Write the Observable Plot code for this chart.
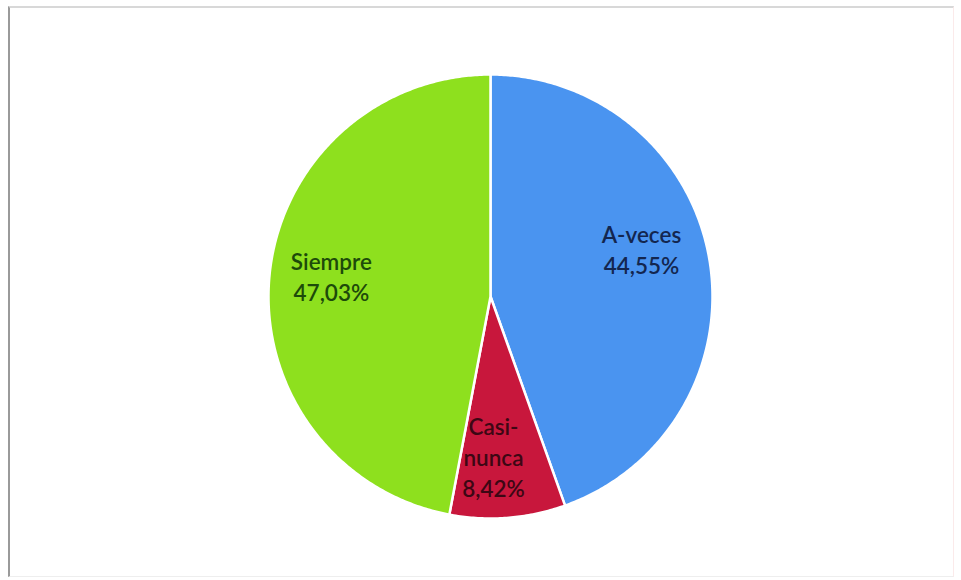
<!DOCTYPE html>
<html>
<head>
<meta charset="utf-8">
<script src="https://cdn.jsdelivr.net/npm/d3@7"></script>
<script src="https://cdn.jsdelivr.net/npm/@observablehq/plot@0.6"></script>
<style>
  html, body { margin: 0; padding: 0; background: #fff; }
  #wrap { position: relative; width: 961px; height: 580px; overflow: hidden; }
  #frame { position: absolute; left: 8px; top: 6px; width: 946px; height: 571px;
           border-left: 2px solid #9a9a9a; border-top: 2px solid #d8d8d8;
           border-right: 1px solid #fbeaea; border-bottom: 1px solid #eeeeee; box-sizing: border-box; }
  #chart { position: absolute; left: 0; top: 0; }
</style>
</head>
<body>
<div id="wrap"><div id="frame"></div><div id="chart"></div></div>
<script>
const categories = ["A-veces", "Casi-\nnunca", "Siempre"];
const values = [44.55, 8.42, 47.03];
const labels = ["44,55%", "8,42%", "47,03%"];
const colors = ["#4a94f0", "#c8173c", "#8ee01e"];
const labelColors = ["#13264f", "#3d0714", "#1d4a0a"];

const total = d3.sum(values);
const slices = [];
let acc = 0;
values.forEach((v, i) => {
  const a0 = acc / total * 2 * Math.PI;
  acc += v;
  const a1 = acc / total * 2 * Math.PI;
  slices.push({cat: categories[i], a0, a1, i});
});

// polygon points for each slice (angle measured clockwise from top)
const pts = [];
for (const s of slices) {
  pts.push({cat: s.cat, x: 0, y: 0});
  const n = Math.max(2, Math.ceil((s.a1 - s.a0) / 0.01));
  for (let k = 0; k <= n; k++) {
    const a = s.a0 + (s.a1 - s.a0) * k / n;
    pts.push({cat: s.cat, x: Math.sin(a), y: Math.cos(a)});
  }
  pts.push({cat: s.cat, x: 0, y: 0});
}

// label placement tweaks (radius fraction, pixel offsets)
const labelR = [0.69, 0.75, 0.72];
const labelDx = [0, -10, 0];
const labelDy = [-22, -6, -6];
const labelData = slices.map((s, i) => {
  const m = (s.a0 + s.a1) / 2;
  return {text: categories[i] + "\n" + labels[i], x: labelR[i] * Math.sin(m), y: labelR[i] * Math.cos(m), i};
});

const plot = Plot.plot({
  width: 961,
  height: 580,
  marginLeft: 268,
  marginRight: 249,
  marginTop: 74,
  marginBottom: 62,
  x: {domain: [-1, 1], axis: null},
  y: {domain: [-1, 1], axis: null},
  color: {domain: categories, range: colors},
  style: {background: "transparent"},
  marks: [
    Plot.line(pts, {x: "x", y: "y", z: "cat", fill: "cat", stroke: "white", strokeWidth: 2.5, strokeLinejoin: "round", curve: "linear"}),
    ...labelData.map(d => Plot.text([d], {x: "x", y: "y", text: "text", fill: labelColors[d.i],
      dx: labelDx[d.i], dy: labelDy[d.i],
      fontSize: 22.5, fontWeight: 600, fontFamily: "Lato, 'Open Sans', sans-serif", lineHeight: 1.38}))
  ]
});
document.getElementById("chart").appendChild(plot);
</script>
</body>
</html>
